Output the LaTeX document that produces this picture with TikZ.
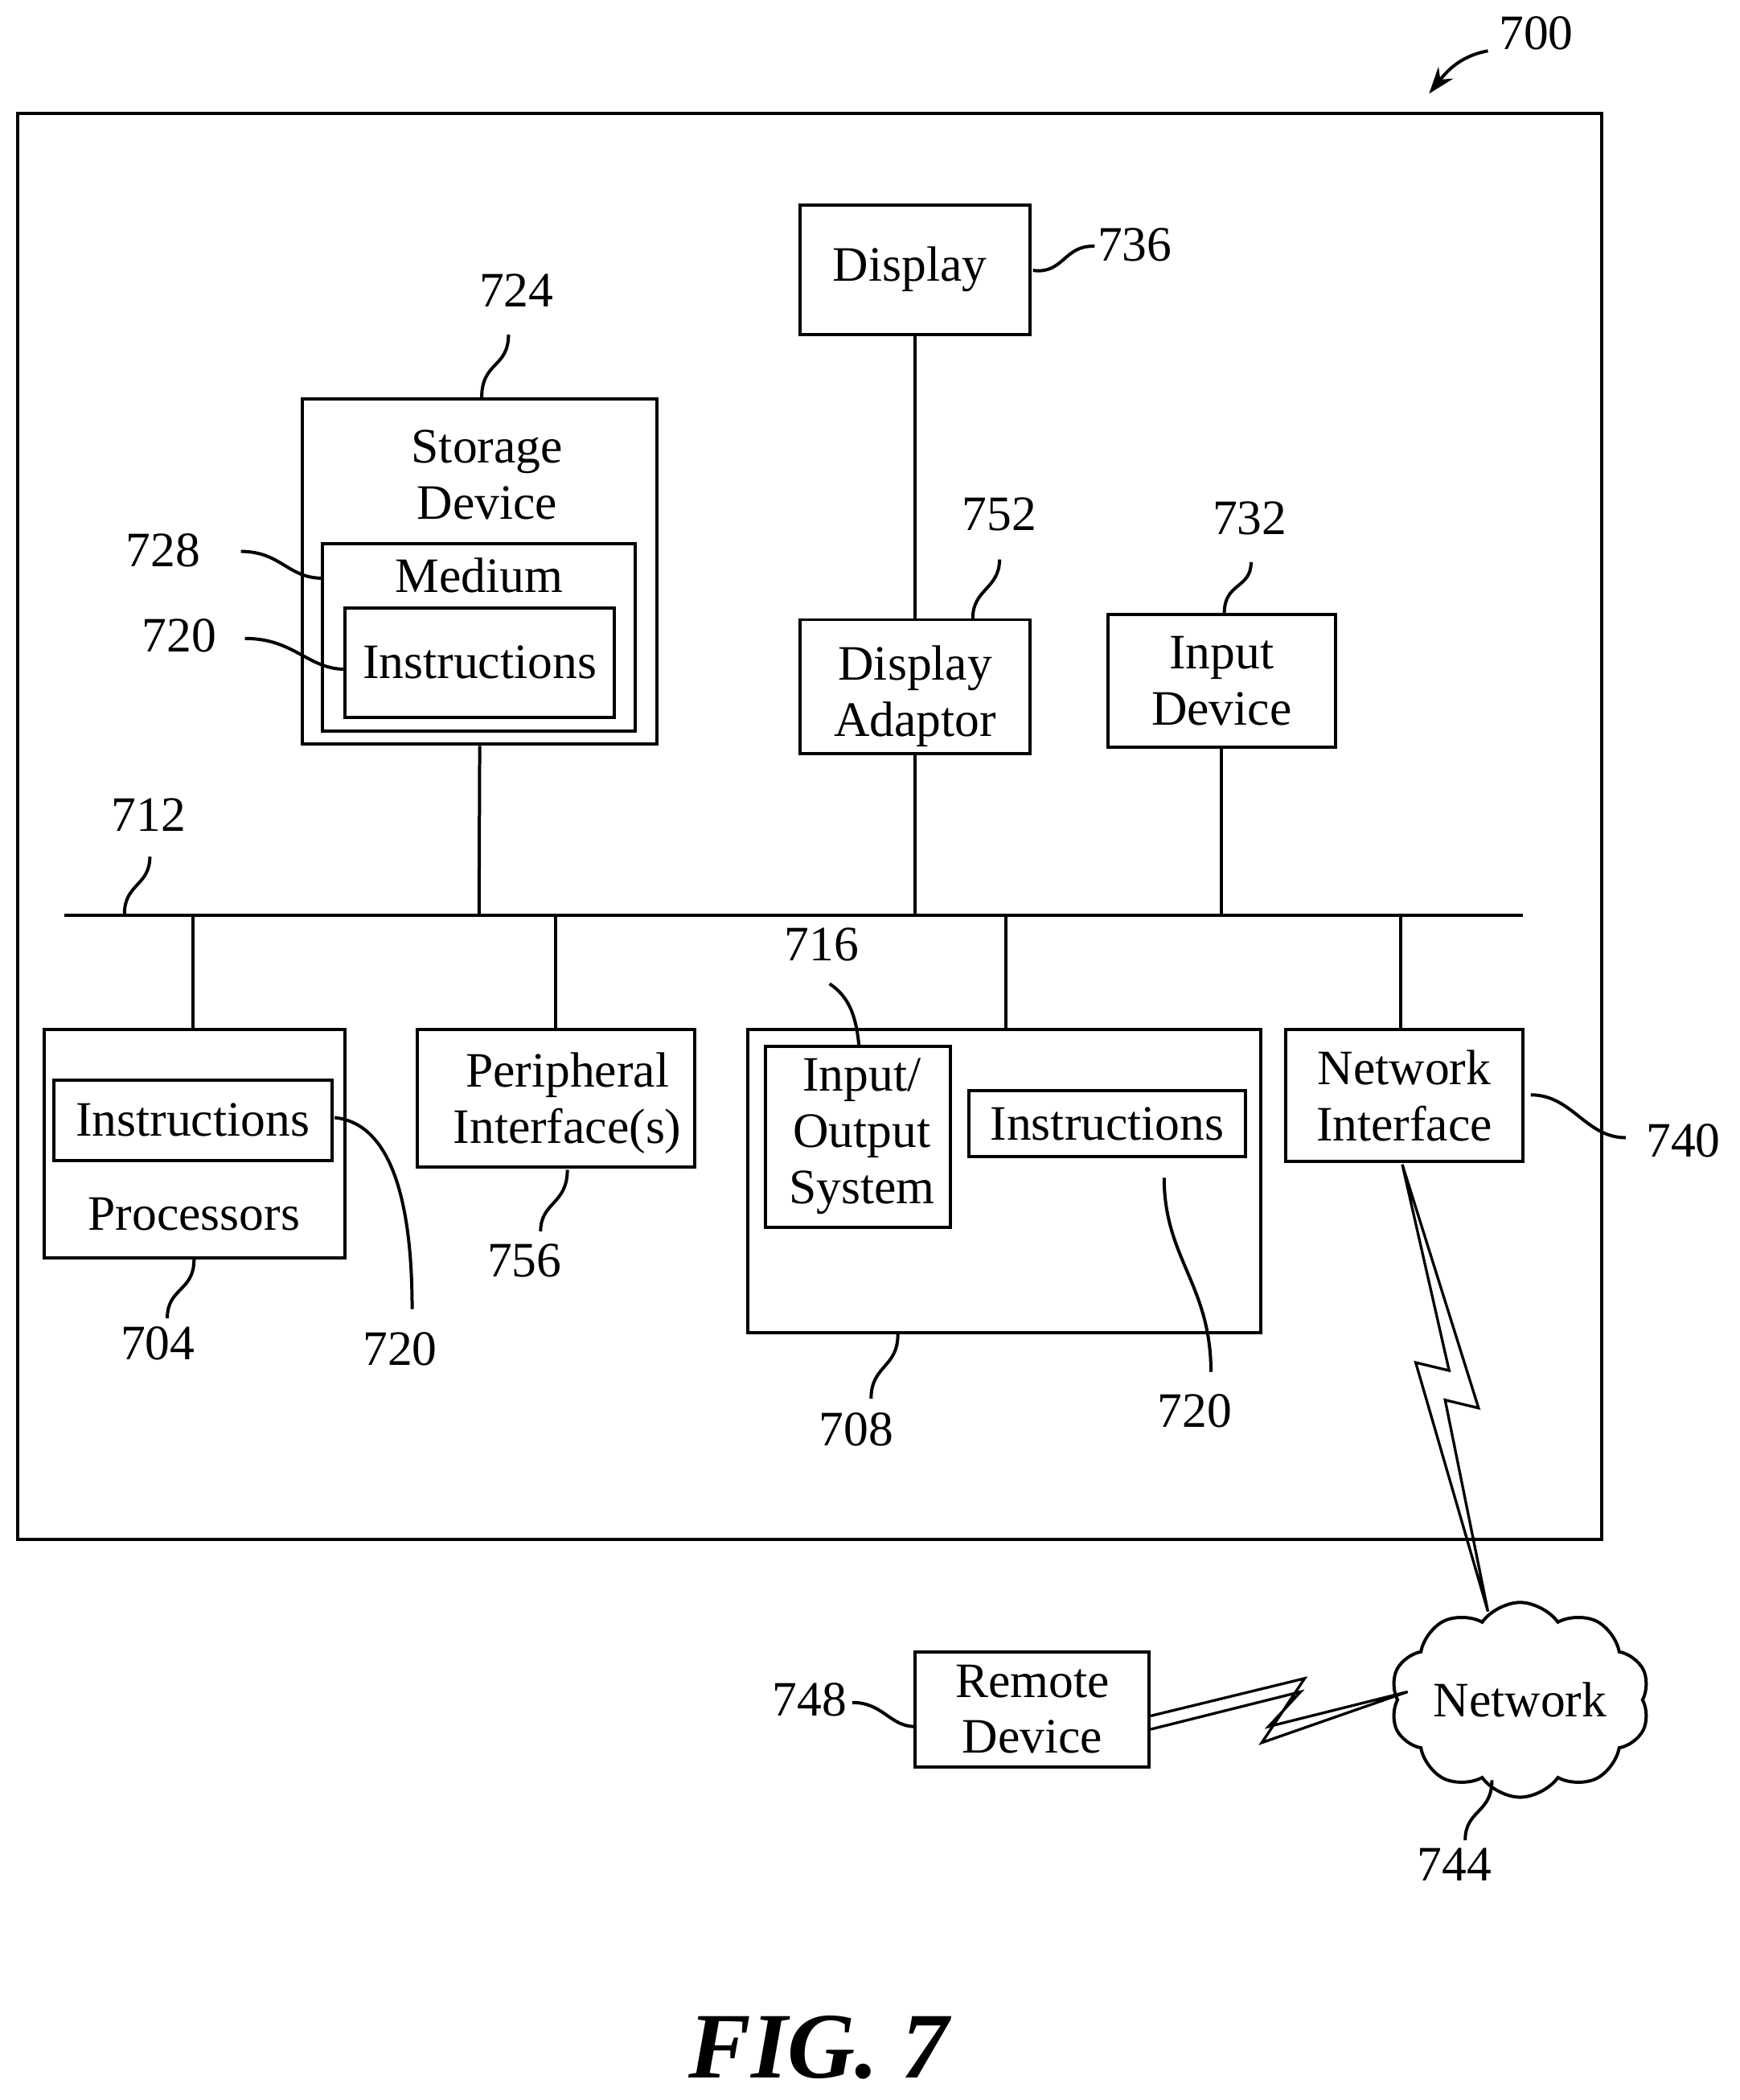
\documentclass[tikz,border=0pt]{standalone}
\usepackage{fontspec}
\setmainfont{Liberation Serif}
\usetikzlibrary{shapes.symbols,arrows.meta}
\begin{document}
\begin{tikzpicture}[x=1pt,y=-1pt,line width=2.4pt,
  box/.style={draw,rectangle,inner sep=0pt,align=center,font=\fontsize{37}{42}\selectfont},
  txt/.style={inner sep=0pt,align=center,font=\fontsize{37}{42}\selectfont},
  lbl/.style={inner sep=0pt,font=\fontsize{37}{42}\selectfont}]
\useasboundingbox (0,0) rectangle (1300,1569);
\newcommand{\bx}[5]{\node[box,minimum width={#4-#2},minimum height={#5-#3}] (#1) at ({(#2+#4)/2},{(#3+#5)/2}) {};}
\bx{outer}{13}{85}{1197}{1150}
\bx{disp}{598}{153}{770}{250}
\node[txt] at (680,201) {Display};
\bx{stor}{226}{298}{491}{556}
\node[txt] (stort) at (364,355) {Storage\\Device};
\bx{med}{241}{406}{475}{546}
\node[txt] (medt) at (358,430) {Medium};
\bx{sins}{258}{454}{459}{536}
\node[txt] at (sins) {Instructions};
\bx{dadp}{598}{463}{770}{563}
\node[txt] at (684,520) {Display\\Adaptor};
\bx{inp}{828}{459}{998}{558}
\node[txt] at (913,509) {Input\\Device};
\bx{proc}{33}{769}{258}{940}
\bx{pins}{40}{807}{248}{867}
\node[txt] at (pins) {Instructions};
\node[txt] at (145,907) {Processors};
\bx{peri}{312}{769}{519}{872}
\node[txt] at (424,824) {Peripheral\\Interface(s)};
\bx{mem}{559}{769}{942}{996}
\bx{ios}{572}{782}{710}{917}
\node[txt] at (644,849) {Input/\\Output\\System};
\bx{mins}{724}{815}{931}{864}
\node[txt] at (mins) {Instructions};
\bx{nif}{961}{769}{1138}{868}
\node[txt] at (nif) {Network\\Interface};
\bx{rem}{684}{1234}{859}{1320}
\node[txt] at (rem) {Remote\\Device};
\node[cloud,draw,cloud puffs=10,cloud puff arc=110,aspect=1.5,minimum width=172,minimum height=125,inner sep=0pt,font=\fontsize{37}{42}\selectfont] (net) at (1136,1270) {Network};
% bus
\coordinate (busL) at (48,684); \coordinate (busR) at (1138,684);
\draw (busL) -- (busR);
\draw (stor.south) -- (358,684);
\draw (disp.south) -- (dadp.north);
\draw (dadp.south) -- (684,684);
\draw (inp.south) -- (913,684);
\draw (144,684) -- (144,769);
\draw (415,684) -- (415,769);
\draw (752,684) -- (752,769);
\draw (1047,684) -- (1047,769);
% lightning
\draw[line width=2pt,line join=miter] (1048,870) -- (1105,1052) -- (1080,1046) -- (1112,1204) -- (1058,1018) -- (1083,1024) -- cycle;
\draw[line width=2pt,line join=miter] (860,1282) -- (975,1254) -- (943,1302) -- (1052,1264) -- (948,1290) -- (972,1264) -- (860,1292);
% labels
\node[lbl] (l700) at (1148,25) {700};
\draw[-{Stealth[length=20pt,width=14pt]}] (1112,38) .. controls (1090,42) and (1080,55) .. (1068,70);
\node[lbl] (l736) at (848,183) {736};
\draw (772,202) .. controls (795,205) and (795,183) .. (818,184);
\node[lbl] (l724) at (386,217) {724};
\draw (360,297) .. controls (360,270) and (380,275) .. (380,250);
\node[lbl] (l728) at (122,411) {728};
\draw (180,412) .. controls (210,412) and (215,432) .. (241,432);
\node[lbl] (l720a) at (134,475) {720};
\draw (183,477) .. controls (220,477) and (230,500) .. (258,500);
\node[lbl] (l752) at (747,384) {752};
\draw (727,462) .. controls (727,440) and (747,440) .. (747,418);
\node[lbl] (l732) at (934,387) {732};
\draw (915,458) .. controls (915,435) and (935,440) .. (935,420);
\node[lbl] (l712) at (111,609) {712};
\draw (93,683) .. controls (93,660) and (112,662) .. (112,640);
\node[lbl] (l704) at (118,1004) {704};
\draw (145,941) .. controls (145,965) and (125,962) .. (125,985);
\node[lbl] (l720b) at (299,1008) {720};
\draw (250,835) .. controls (300,840) and (308,920) .. (308,978);
\node[lbl] (l756) at (392,942) {756};
\draw (424,874) .. controls (424,900) and (404,898) .. (404,920);
\node[lbl] (l716) at (614,706) {716};
\draw (620,735) .. controls (635,745) and (640,760) .. (642,782);
\node[lbl] (l708) at (640,1068) {708};
\draw (671,997) .. controls (671,1022) and (651,1020) .. (651,1045);
\node[lbl] (l720c) at (893,1054) {720};
\draw (870,880) .. controls (870,940) and (905,960) .. (905,1025);
\node[lbl] (l740) at (1258,852) {740};
\draw (1144,818) .. controls (1175,818) and (1185,850) .. (1215,850);
\node[lbl] (l748) at (605,1270) {748};
\draw (637,1272) .. controls (660,1272) and (665,1290) .. (684,1290);
\node[lbl] (l744) at (1087,1393) {744};
\draw (1115,1330) .. controls (1115,1355) and (1095,1352) .. (1095,1375);
\node[inner sep=0pt,font=\fontsize{70}{74}\selectfont\bfseries\itshape] (fig) at (612,1530) {FIG. 7};
\end{tikzpicture}
\end{document}
